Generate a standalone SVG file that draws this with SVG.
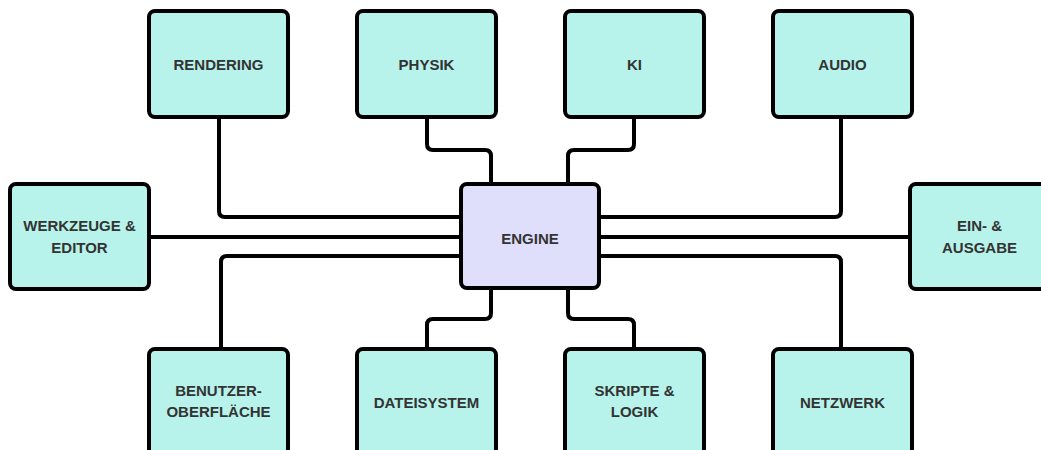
<svg xmlns="http://www.w3.org/2000/svg" width="1041" height="450" viewBox="0 0 1041 450">
<style>
.box{fill:#b7f3ea;stroke:#000;stroke-width:4}
.eng{fill:#dfdffb;stroke:#000;stroke-width:4}
.lbl{font-family:"Liberation Sans",Arial,sans-serif;font-weight:bold;font-size:15px;fill:#333;text-anchor:middle;dominant-baseline:central}
.con{fill:none;stroke:#000;stroke-width:4;stroke-linejoin:round}
</style>
<rect width="1041" height="450" fill="#fff"/>
<g id="connectors">
<path class="con" d="M219 117 V211 Q219 217 225 217 H461"/>
<path class="con" d="M427 117 V144 Q427 150 433 150 H485 Q491 150 491 156 V184"/>
<path class="con" d="M634 117 V144 Q634 150 628 150 H574 Q568 150 568 156 V184"/>
<path class="con" d="M841 117 V211 Q841 217 835 217 H599"/>
<path class="con" d="M150 237 H461"/>
<path class="con" d="M599 237 H910"/>
<path class="con" d="M461 256 H227 Q221 256 221 262 V349"/>
<path class="con" d="M599 256 H835 Q841 256 841 262 V349"/>
<path class="con" d="M491 289 V313 Q491 319 485 319 H433 Q427 319 427 325 V349"/>
<path class="con" d="M568 289 V313 Q568 319 574 319 H628 Q634 319 634 325 V349"/>
</g>
<g id="rendering"><rect class="box" x="149" y="11" width="139" height="106" rx="6"/><text class="lbl" x="218.5" y="64">RENDERING</text></g>
<g id="physik"><rect class="box" x="357" y="11" width="139" height="106" rx="6"/><text class="lbl" x="426.5" y="64">PHYSIK</text></g>
<g id="ki"><rect class="box" x="565" y="11" width="139" height="106" rx="6"/><text class="lbl" x="634.5" y="64">KI</text></g>
<g id="audio"><rect class="box" x="773" y="11" width="139" height="106" rx="6"/><text class="lbl" x="842.5" y="64">AUDIO</text></g>
<g id="werkzeuge"><rect class="box" x="10" y="184" width="139" height="105" rx="6"/><text class="lbl" x="79.5" y="225">WERKZEUGE &amp;</text><text class="lbl" x="79.5" y="247">EDITOR</text></g>
<g id="engine"><rect class="eng" x="461" y="184" width="138" height="104" rx="6"/><text class="lbl" x="530" y="238">ENGINE</text></g>
<g id="einausgabe"><rect class="box" x="910" y="184" width="139" height="105" rx="6"/><text class="lbl" x="979.5" y="225">EIN- &amp;</text><text class="lbl" x="979.5" y="247">AUSGABE</text></g>
<g id="benutzer"><rect class="box" x="149" y="349" width="139" height="106" rx="6"/><text class="lbl" x="218.5" y="390">BENUTZER-</text><text class="lbl" x="218.5" y="411">OBERFLÄCHE</text></g>
<g id="dateisystem"><rect class="box" x="357" y="349" width="139" height="106" rx="6"/><text class="lbl" x="426.5" y="402">DATEISYSTEM</text></g>
<g id="skripte"><rect class="box" x="565" y="349" width="139" height="106" rx="6"/><text class="lbl" x="634.5" y="390">SKRIPTE &amp;</text><text class="lbl" x="634.5" y="411">LOGIK</text></g>
<g id="netzwerk"><rect class="box" x="773" y="349" width="139" height="106" rx="6"/><text class="lbl" x="842.5" y="402">NETZWERK</text></g>
</svg>
